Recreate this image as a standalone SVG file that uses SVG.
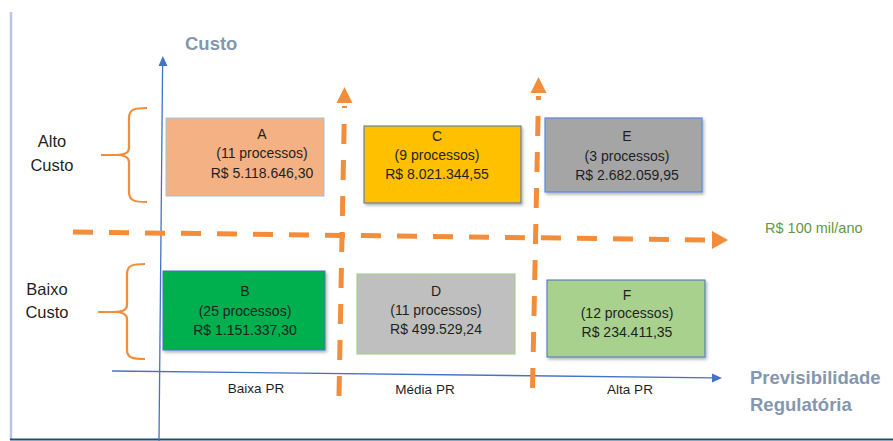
<svg xmlns="http://www.w3.org/2000/svg" width="893" height="441" viewBox="0 0 893 441">
<defs>
<filter id="sh" x="-10%" y="-10%" width="130%" height="130%">
<feDropShadow dx="1.5" dy="2" stdDeviation="1.5" flood-color="#000" flood-opacity="0.3"/>
</filter>
</defs>
<style>
.box text{font-family:"Liberation Sans",Arial,sans-serif;font-size:14px;fill:#1f1f1f;text-anchor:middle}
.lab{font-family:"Liberation Sans",Arial,sans-serif;fill:#1f1f1f;text-anchor:middle}
.axt{font-family:"Liberation Sans",Arial,sans-serif;font-weight:bold;fill:#8497b0}
.dash{stroke:#f28e3b;stroke-width:5;fill:none;stroke-dasharray:20 16}
.brace{stroke:#f28e3b;stroke-width:2.2;fill:none}
.ax{stroke:#4472c4;stroke-width:1.3;fill:none}
</style>
<rect width="893" height="441" fill="#fff"/>
<line x1="11" y1="12" x2="11" y2="440" stroke="#b4c7e7" stroke-width="2.5"/>
<line x1="10" y1="439.5" x2="893" y2="439.5" stroke="#1f4e79" stroke-width="2"/>

<g id="axes">
<line class="ax" x1="159" y1="441" x2="162.6" y2="65"/>
<path d="M158.5,66 L162.8,56 L167.5,66 Z" fill="#4472c4"/>
<line class="ax" x1="112" y1="371" x2="713" y2="377.8"/>
<path d="M712,373.5 L722,378 L712,382.5 Z" fill="#4472c4"/>
<text class="axt" x="185" y="50" font-size="18.5">Custo</text>
<text class="axt" x="750" y="384" font-size="18.5">Previsibilidade</text>
<text class="axt" x="750" y="411" font-size="18.5">Regulatória</text>
</g>

<g id="connectors">
<line class="dash" x1="73" y1="232" x2="712" y2="240"/>
<path d="M712,231 L728,240 L712,249 Z" fill="#f28e3b"/>
<line class="dash" x1="339" y1="396" x2="344.5" y2="106"/>
<path d="M336.5,103 L344.5,87 L352.5,103 Z" fill="#f28e3b"/>
<line class="dash" x1="532.5" y1="388" x2="538.5" y2="96"/>
<path d="M530.5,93 L538.5,77 L546.5,93 Z" fill="#f28e3b"/>
</g>

<g id="braces">
<path class="brace" d="M147,108 C135,108 129,109 129,118 L129,148 C129,153 124,155 116,155 L101,155 M116,155 C124,155 129,157 129,162 L129,192 C129,201 135,202 147,202"/>
<path class="brace" d="M145,264 C133,264 127,265 127,274 L127,305 C127,310 122,312 114,312 L98,312 M114,312 C122,312 127,314 127,319 L127,350 C127,358 133,359 145,359"/>
<text class="lab" x="52" y="147" font-size="16.5">Alto</text>
<text class="lab" x="52" y="171" font-size="16.5">Custo</text>
<text class="lab" x="47" y="295" font-size="16.5">Baixo</text>
<text class="lab" x="47" y="318" font-size="16.5">Custo</text>
</g>

<g id="A" class="box">
<rect x="166" y="118" width="158" height="78" fill="#f4b183" stroke="#9dc3e6" stroke-width="1"/>
<text x="262" y="139">A</text>
<text x="262" y="158">(11 processos)</text>
<text x="262" y="178">R$ 5.118.646,30</text>
</g>
<g id="C" class="box">
<rect x="364" y="126" width="157" height="77" fill="#ffc000" stroke="#4472c4" stroke-width="1" filter="url(#sh)"/>
<text x="437" y="141">C</text>
<text x="437" y="160">(9 processos)</text>
<text x="437" y="179">R$ 8.021.344,55</text>
</g>
<g id="E" class="box">
<rect x="545" y="118" width="157" height="74" fill="#a5a5a5" stroke="#5b8bd0" stroke-width="1.2" filter="url(#sh)"/>
<text x="627" y="141">E</text>
<text x="627" y="161">(3 processos)</text>
<text x="627" y="180">R$ 2.682.059,95</text>
</g>
<g id="B" class="box">
<rect x="163" y="271" width="162" height="79" fill="#00b050" stroke="#4472c4" stroke-width="1" filter="url(#sh)"/>
<text x="245" y="296">B</text>
<text x="245" y="316">(25 processos)</text>
<text x="245" y="335">R$ 1.151.337,30</text>
</g>
<g id="D" class="box">
<rect x="357" y="274" width="158" height="80" fill="#bfbfbf" stroke="#a9d18e" stroke-width="1.2"/>
<text x="436" y="296">D</text>
<text x="436" y="315">(11 processos)</text>
<text x="436" y="334">R$ 499.529,24</text>
</g>
<g id="F" class="box">
<rect x="547" y="280" width="158" height="77" fill="#a9d18e" stroke="#4472c4" stroke-width="1" filter="url(#sh)"/>
<text x="627" y="300">F</text>
<text x="627" y="318">(12 processos)</text>
<text x="627" y="337">R$ 234.411,35</text>
</g>

<g id="labels">
<text class="lab" x="256" y="393" font-size="13.5">Baixa PR</text>
<text class="lab" x="425" y="394" font-size="13.5">Média PR</text>
<text class="lab" x="630" y="394" font-size="13.5">Alta PR</text>
<text x="765" y="233" font-family="Liberation Sans, Arial, sans-serif" font-size="14.5" fill="#5f9a3e">R$ 100 mil/ano</text>
</g>
</svg>
